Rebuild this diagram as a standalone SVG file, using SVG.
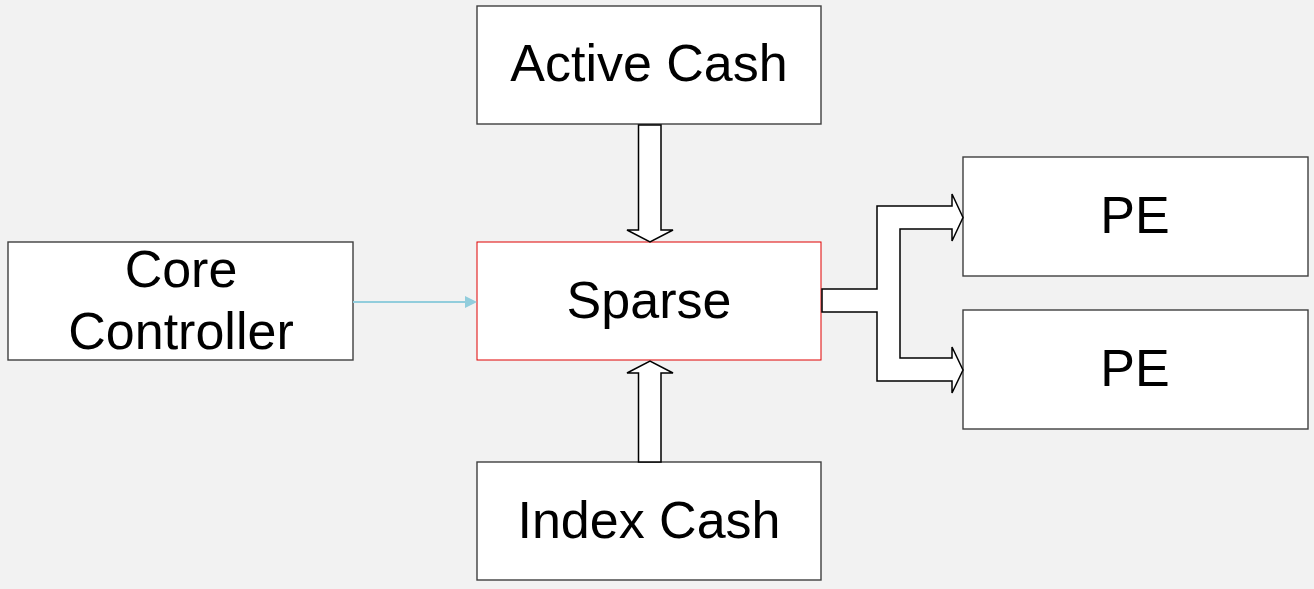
<svg xmlns="http://www.w3.org/2000/svg" width="1314" height="589" viewBox="0 0 1314 589">
<style>
.box{fill:#fff;stroke:#3f3f3f;stroke-width:1.4}
.red{fill:#fff;stroke:#e00000;stroke-width:1}
.t{font-family:"Liberation Sans",Arial,sans-serif;font-size:52px;fill:#000;text-anchor:middle}
.blk{fill:#fff;stroke:#000;stroke-width:1.5;stroke-linejoin:miter}
</style>
<rect width="1314" height="589" fill="#f2f2f2"/>
<g id="active-cash"><rect class="box" x="477" y="6" width="344" height="118"/><text class="t" x="649" y="81">Active Cash</text></g>
<g id="sparse"><rect class="red" x="477" y="242" width="344" height="118"/><text class="t" x="649" y="318">Sparse</text></g>
<g id="index-cash"><rect class="box" x="477" y="462" width="344" height="118"/><text class="t" x="649" y="538">Index Cash</text></g>
<g id="core-controller"><rect class="box" x="8" y="242" width="345" height="118"/><text class="t" x="181" y="287">Core</text><text class="t" x="181" y="349">Controller</text></g>
<g id="pe1"><rect class="box" x="963" y="157" width="345" height="119"/><text class="t" x="1135" y="233">PE</text></g>
<g id="pe2"><rect class="box" x="963" y="310" width="345" height="119"/><text class="t" x="1135" y="386">PE</text></g>
<g id="connectors">
<polygon class="blk" points="638.5,125 661,125 661,230 673,230 650,242 627,230 638.5,230"/>
<polygon class="blk" points="638.5,462 661,462 661,373 673,373 650,361 627,373 638.5,373"/>
<polygon class="blk" points="822,289 877,289 877,206 952,206 952,194 963,217.5 952,241 952,229 900,229 900,358 952,358 952,347 963,370 952,393 952,381 877,381 877,312 822,312"/>
<line x1="353" y1="302" x2="466" y2="302" stroke="#92cddc" stroke-width="2"/>
<polygon points="465,296 477,302 465,308" fill="#92cddc"/>
</g>
</svg>
